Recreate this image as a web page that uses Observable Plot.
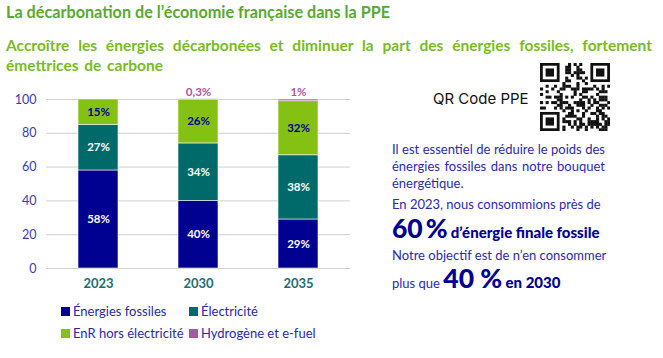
<!DOCTYPE html>
<html><head><meta charset="utf-8">
<script src="https://cdn.jsdelivr.net/npm/d3@7"></script>
<script src="https://cdn.jsdelivr.net/npm/@observablehq/plot@0.6"></script>
<style>
body{margin:0;background:#fff;width:663px;height:358px;position:relative;overflow:hidden;font-family:Lato,"Open Sans",sans-serif;}
.abs{position:absolute;}
#title{left:6px;top:2px;font-size:16.2px;font-weight:700;color:#5aa832;white-space:nowrap;}
#subtitle{left:6px;top:35px;width:646px;font-size:15.5px;font-weight:700;color:#78bc1e;line-height:20px;text-align:justify;text-align-last:left;word-spacing:2px;}
#chart{left:0;top:85px;}
#legend{left:61px;top:303px;font-size:13px;color:#2a2aa6;}
.li{position:absolute;white-space:nowrap;display:flex;align-items:center;}
.sw{width:9px;height:9px;margin-right:3px;display:inline-block;}
#qrlabel{left:433px;top:89px;font-size:15px;color:#111;font-family:Inter,sans-serif;white-space:nowrap;}
#qr{left:540px;top:63px;}
.txt{color:#2b2bab;font-size:13px;font-family:Lato,sans-serif;}
#p1{left:392px;top:141px;width:213px;line-height:17px;text-align:justify;}
#p2{left:392px;top:196px;white-space:nowrap;}
#p3{left:392px;top:213px;white-space:nowrap;line-height:30px;}
#p4{left:392px;top:247px;white-space:nowrap;}
#p5{left:392px;top:263px;white-space:nowrap;line-height:30px;}
.big{font-size:26.5px;font-weight:900;color:#000091;}
.bold{font-size:15px;font-weight:900;color:#000091;}
</style></head>
<body>
<div id="title" class="abs">La décarbonation de l’économie française dans la PPE</div>
<div id="subtitle" class="abs">Accroître les énergies décarbonées et diminuer la part des énergies fossiles, fortement émettrices de carbone</div>
<div id="chart" class="abs"></div>
<div id="legend" class="abs"></div>
<div id="qrlabel" class="abs">QR Code PPE</div>
<svg id="qr" class="abs" width="70" height="68"></svg>
<div id="p1" class="abs txt">Il est essentiel de réduire le poids des énergies fossiles dans notre bouquet énergétique.</div>
<div id="p2" class="abs txt">En 2023, nous consommions près de</div>
<div id="p3" class="abs txt"><span class="big">60</span><span class="big" style="margin-left:3px">%</span><span class="bold" style="margin-left:3px">d’énergie finale fossile</span></div>
<div id="p4" class="abs txt">Notre objectif est de n’en consommer</div>
<div id="p5" class="abs txt">plus que <span class="big">40 %</span> <span class="bold">en 2030</span></div>
<script>
const years = ["2023", "2030", "2035"];
const series = ["Énergies fossiles", "Électricité", "EnR hors électricité", "Hydrogène et e-fuel"];
const fossiles = [58, 40, 29];
const electricite = [27, 34, 38];
const enr = [15, 26, 32];
const hydrogene = [0, 0.3, 1];
const colors = ["#000091", "#006a6a", "#85c112", "#a558a0"];
const labelColors = ["#ffffff", "#ffffff", "#000091", "#a558a0"];
const yTicks = [0, 20, 40, 60, 80, 100];

const values = [fossiles, electricite, enr, hydrogene];
const data = [];
years.forEach((yr, i) => series.forEach((s, k) => data.push({year: yr, series: s, value: values[k][i], k})));
const fmt = v => String(v).replace(".", ",") + "%";

const inBar = data.filter(d => d.k < 3);
const above = data.filter(d => d.k === 3 && d.value > 0);

const chart = Plot.plot({
  width: 380, height: 215,
  marginLeft: 46, marginRight: 30, marginTop: 14, marginBottom: 32,
  x: {domain: years, paddingInner: 0.6, paddingOuter: 0.307, label: null},
  y: {domain: [0, 100], label: null},
  color: {domain: series, range: colors},
  style: {fontFamily: "Lato, sans-serif", background: "transparent"},
  marks: [
    Plot.gridY(yTicks, {stroke: "#d0d0d0", strokeOpacity: 1, strokeWidth: 1}),
    Plot.axisY(yTicks, {tickSize: 0, tickPadding: 10, fontSize: 12.5, fill: "#3b3bb0", label: null}),
    Plot.axisX({tickSize: 0, tickPadding: 10, fontSize: 13, fontWeight: 700, fill: "#1d6e6e", label: null}),
    Plot.barY(data, {x: "year", y: "value", fill: "series", order: series, stroke: "#ffffff", strokeWidth: 0.8, strokeOpacity: 0.7}),
    Plot.text(inBar, Plot.stackY({x: "year", y: "value", z: "series", order: [series[0], series[1], series[2]], text: d => fmt(d.value), fill: d => labelColors[d.k], fontSize: 11.5, fontWeight: 700})),
    Plot.text(above, {x: "year", y: () => 100, text: d => fmt(d.value), fill: labelColors[3], fontSize: 11.5, fontWeight: 700, dy: -7})
  ]
});
document.getElementById("chart").appendChild(chart);

// legend
const legend = document.getElementById("legend");
const pos = [[0, 0], [128, 0], [0, 22], [128, 22]];
series.forEach((s, k) => {
  const el = document.createElement("div");
  el.className = "li";
  el.style.left = pos[k][0] + "px";
  el.style.top = pos[k][1] + "px";
  el.innerHTML = `<span class="sw" style="background:${colors[k]}"></span>${s}`;
  legend.appendChild(el);
});

// decorative QR-like code
(function () {
  const svg = d3.select("#qr");
  const n = 25, c = 70 / n, ch = 68 / n;
  const g = svg.append("g");
  const finder = (x0, y0) => {
    g.append("rect").attr("x", x0 * c).attr("y", y0 * ch).attr("width", 7 * c).attr("height", 7 * ch).attr("fill", "#111");
    g.append("rect").attr("x", (x0 + 1) * c).attr("y", (y0 + 1) * ch).attr("width", 5 * c).attr("height", 5 * ch).attr("fill", "#fff");
    g.append("rect").attr("x", (x0 + 2) * c).attr("y", (y0 + 2) * ch).attr("width", 3 * c).attr("height", 3 * ch).attr("fill", "#111");
  };
  const inFinder = (i, j) => (i < 8 && j < 8) || (i >= n - 8 && j < 8) || (i < 8 && j >= n - 8);
  for (let i = 0; i < n; i++) for (let j = 0; j < n; j++) {
    if (inFinder(i, j)) continue;
    const h = ((i * 73856093) ^ (j * 19349663) ^ (i * j * 83492791)) >>> 0;
    if ((h % 7) < 3) g.append("rect").attr("x", i * c).attr("y", j * ch).attr("width", c + 0.3).attr("height", ch + 0.3).attr("fill", "#111");
  }
  finder(0, 0); finder(n - 7, 0); finder(0, n - 7);
})();
</script>
</body></html>
